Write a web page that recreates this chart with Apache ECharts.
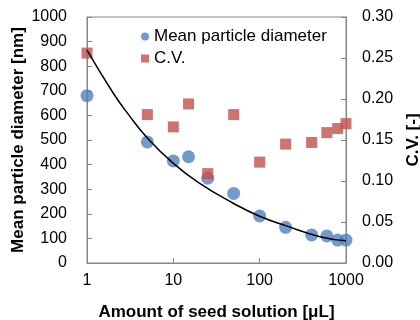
<!DOCTYPE html>
<html>
<head>
<meta charset="utf-8">
<script src="https://cdn.jsdelivr.net/npm/echarts@6/dist/echarts.min.js"></script>
<style>
html,body{margin:0;padding:0;background:#fff;}
#chart{width:420px;height:320px;}
</style>
</head>
<body>
<div id="chart"></div>
<script>
// Data
var seedAmount = [1, 5, 10, 15, 25, 50, 100, 200, 400, 600, 800, 1000];
var meanDiameter = [680, 492, 415, 432, 345, 283, 191, 145, 114, 110, 93, 93];
var cvValues = [0.256, 0.181, 0.166, 0.194, 0.109, 0.181, 0.123, 0.145, 0.147, 0.159, 0.164, 0.170];
var fitX = [1, 2, 3, 5, 10, 20, 50, 100, 200, 500, 1000];
var fitY = [865, 692, 605, 508, 405, 325, 242, 190, 152, 107, 90];

var blue = '#4F81BD', red = '#C0504D', axisGray = '#868686';
var font = 'Liberation Sans, Arial, sans-serif';

function pairs(xs, ys){ return xs.map(function(x,i){ return [x, ys[i]]; }); }

var chart = echarts.init(document.getElementById('chart'), null, {renderer:'canvas'});
chart.setOption({
  animation: false,
  backgroundColor: '#fff',
  textStyle: {fontFamily: font, color: '#000'},
  grid: {left: 87, right: 74, top: 17, bottom: 57, outerBoundsMode: 'none', containLabel: false,
    show: true, borderColor: axisGray, borderWidth: 1, backgroundColor: 'transparent'},
  legend: {
    orient: 'vertical', left: 136, top: 23, itemGap: 5, itemWidth: 8, itemHeight: 8,
    textStyle: {fontSize: 17, color: '#000', fontFamily: font},
    data: [
      {name: 'Mean particle diameter', icon: 'circle'},
      {name: 'C.V.', icon: 'rect'}
    ]
  },
  xAxis: {
    type: 'log', logBase: 10, min: 1, max: 1000,
    name: 'Amount of seed solution [μL]', nameLocation: 'middle', nameGap: 41, nameMoveOverlap: false,
    nameTextStyle: {fontSize: 17, fontWeight: 'bold', color: '#000', fontFamily: font},
    axisLine: {lineStyle: {color: axisGray}},
    axisTick: {inside: true, length: 5, lineStyle: {color: axisGray}},
    minorTick: {show: false},
    splitLine: {show: false},
    axisLabel: {fontSize: 16, color: '#000', margin: 10, fontFamily: font,
      formatter: function(v){ return String(Math.round(v)); }}
  },
  yAxis: [
    {
      type: 'value', min: 0, max: 1000, interval: 100, position: 'left',
      name: 'Mean particle diameter [nm]', nameLocation: 'middle', nameGap: 60, nameRotate: 90, nameMoveOverlap: false,
      nameTextStyle: {fontSize: 17, fontWeight: 'bold', color: '#000', fontFamily: font},
      axisLine: {show: true, lineStyle: {color: axisGray}},
      axisTick: {show: true, inside: true, length: 5, lineStyle: {color: axisGray}},
      splitLine: {show: false},
      axisLabel: {fontSize: 16, color: '#000', margin: 20, fontFamily: font,
        formatter: function(v){ return String(Math.round(v)); }}
    },
    {
      type: 'value', min: 0, max: 0.30, interval: 0.05, position: 'right',
      name: 'C.V. [-]', nameLocation: 'middle', nameGap: 59, nameRotate: 90, nameMoveOverlap: false,
      nameTextStyle: {fontSize: 17, fontWeight: 'bold', color: '#000', fontFamily: font},
      axisLine: {show: true, lineStyle: {color: axisGray}},
      axisTick: {show: true, inside: true, length: 5, lineStyle: {color: axisGray}},
      splitLine: {show: false},
      axisLabel: {fontSize: 16, color: '#000', margin: 16, fontFamily: font,
        formatter: function(v){ return v.toFixed(2); }}
    }
  ],
  series: [
    {
      name: 'Mean particle diameter', type: 'scatter', yAxisIndex: 0, z: 2,
      symbol: 'circle', symbolSize: 13,
      itemStyle: {color: blue},
      data: pairs(seedAmount, meanDiameter)
    },
    {
      name: 'C.V.', type: 'scatter', yAxisIndex: 1, z: 3,
      symbol: 'rect', symbolSize: 11,
      itemStyle: {color: red},
      data: pairs(seedAmount, cvValues)
    },
    {
      name: 'fit', type: 'line', yAxisIndex: 0, z: 4,
      showSymbol: false, smooth: true,
      lineStyle: {color: '#000', width: 1.5},
      data: pairs(fitX, fitY)
    }
  ]
});
</script>
</body>
</html>
